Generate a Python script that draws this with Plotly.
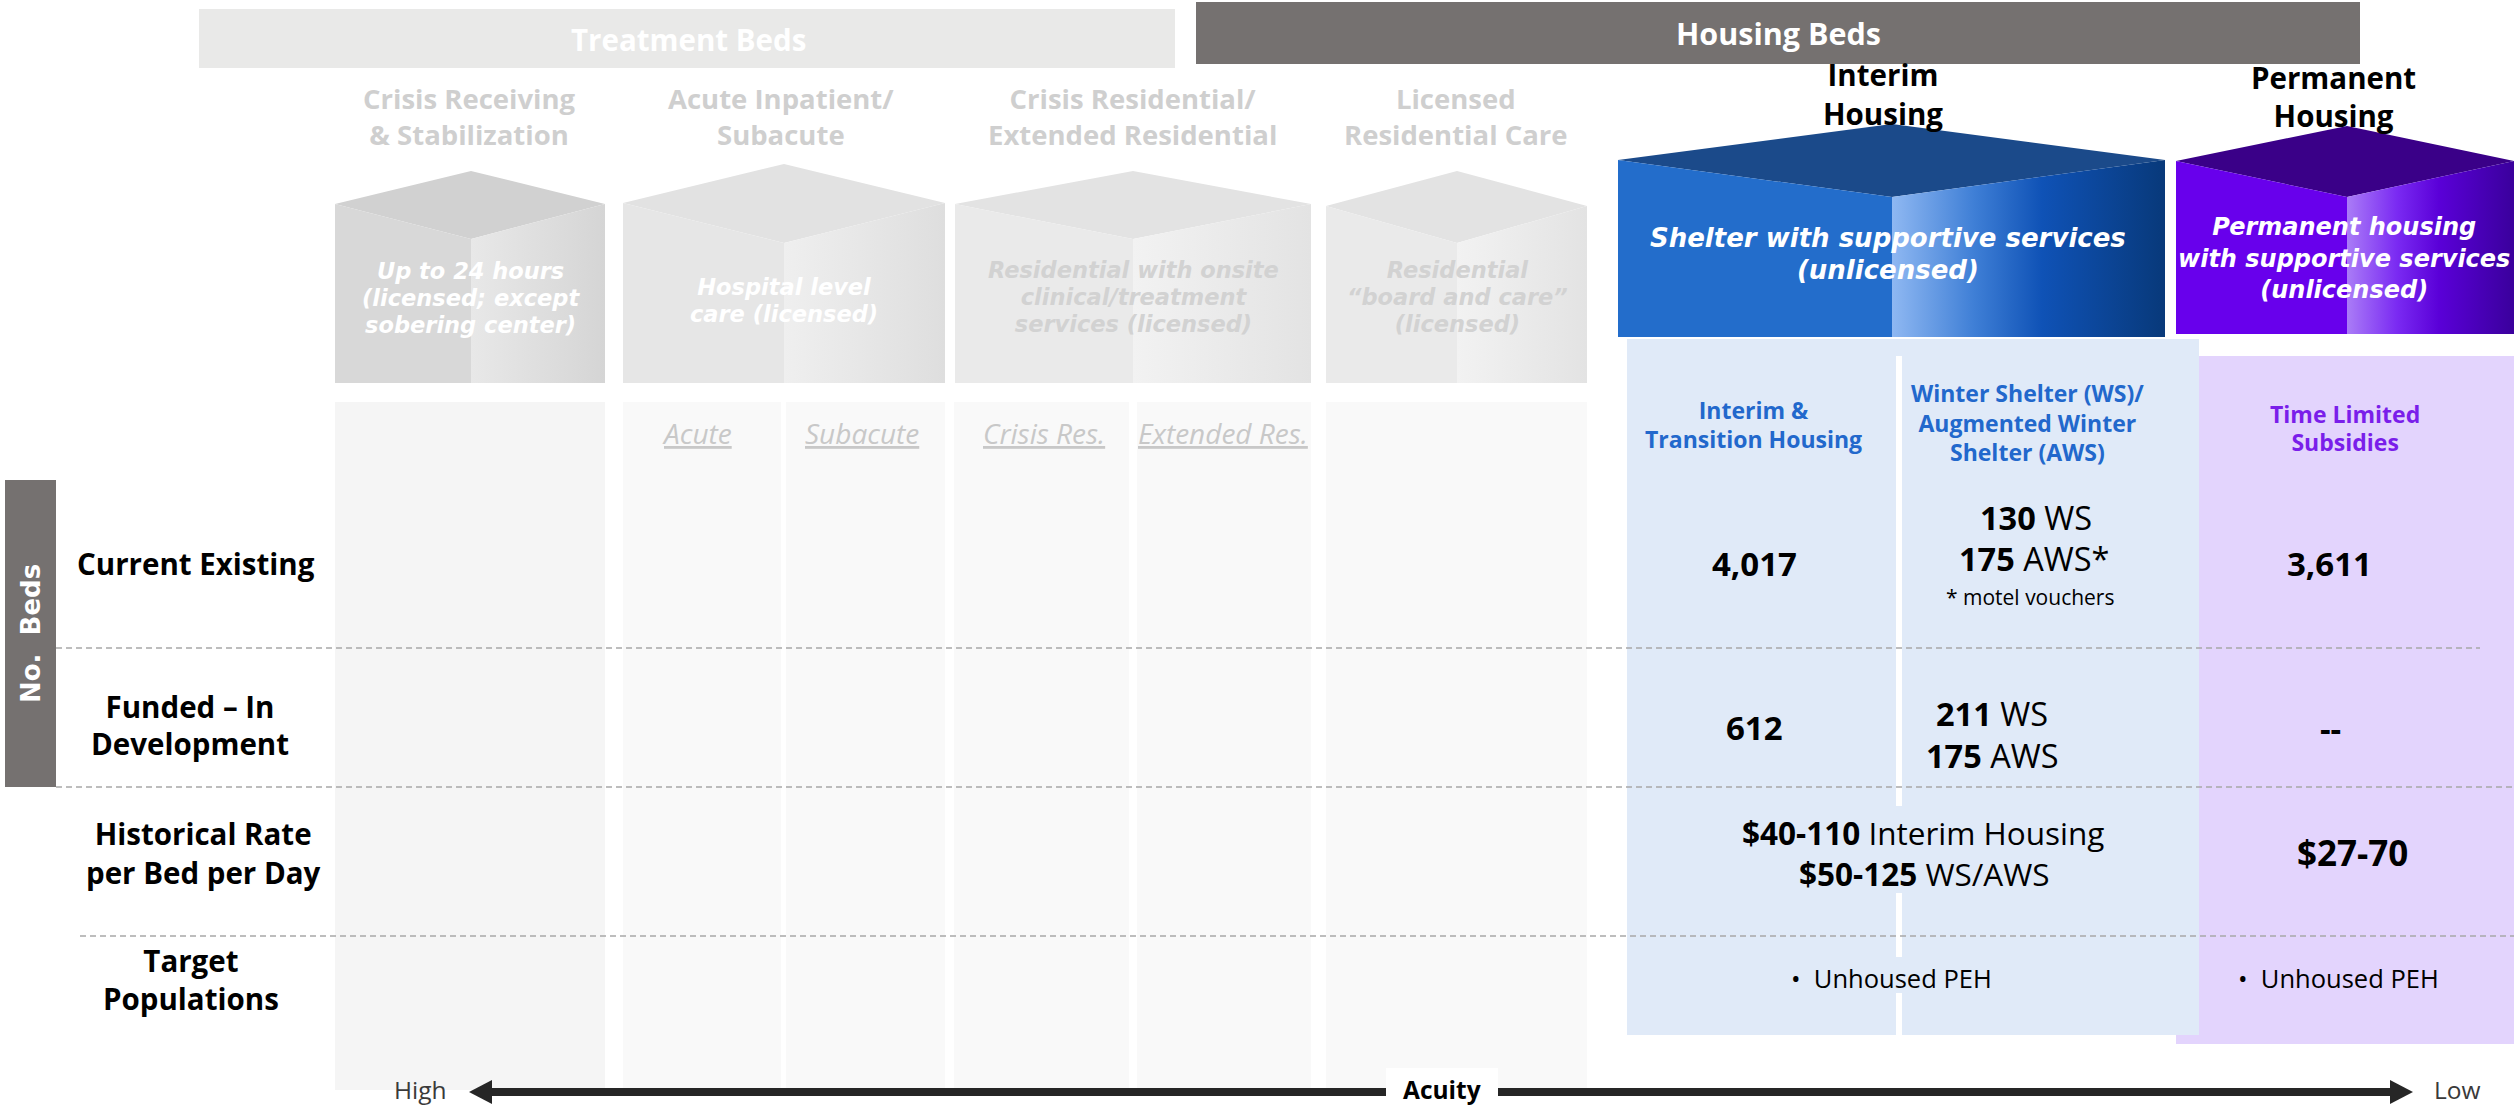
import plotly.graph_objects as go

# ------------------------------------------------------------------ data
treatment_title = "Treatment Beds"
housing_title = "Housing Beds"
treatment_categories = [["Crisis Receiving", "& Stabilization"],
                        ["Acute Inpatient/", "Subacute"],
                        ["Crisis Residential/", "Extended Residential"],
                        ["Licensed", "Residential Care"]]
treatment_descriptions = [["Up to 24 hours", "(licensed; except", "sobering center)"],
                          ["Hospital level", "care (licensed)"],
                          ["Residential with onsite", "clinical/treatment", "services (licensed)"],
                          ["Residential", "\u201cboard and care\u201d", "(licensed)"]]
treatment_subtypes = ["Acute", "Subacute", "Crisis Res.", "Extended Res."]
housing_categories = [["Interim", "Housing"], ["Permanent", "Housing"]]
housing_descriptions = [["Shelter with supportive services", "(unlicensed)"],
                        ["Permanent housing", "with supportive services", "(unlicensed)"]]
housing_subcolumns = [["Interim &", "Transition Housing"],
                      ["Winter Shelter (WS)/", "Augmented Winter", "Shelter (AWS)"],
                      ["Time Limited", "Subsidies"]]
row_labels = [["Current Existing"], ["Funded \u2013 In", "Development"],
              ["Historical Rate", "per Bed per Day"], ["Target", "Populations"]]
side_label = "No.  Beds"
# beds: [current existing, funded - in development]
interim_beds = [4017, 612]
ws_beds = [130, 211]
aws_beds = [175, 175]
permanent_beds = [3611, None]
aws_note = "* motel vouchers"
# historical rate per bed per day ($ low, $ high)
rate_interim = [40, 110]
rate_ws_aws = [50, 125]
rate_permanent = [27, 70]
target_populations = ["Unhoused PEH", "Unhoused PEH"]
acuity_labels = ["High", "Acuity", "Low"]

# ------------------------------------------------------------------ layout / styles
W, H = 2514, 1106
FONT = "Open Sans"
WIDE = "DejaVu Sans"
fig = go.Figure()
shapes = []
annots = []


def text(x, y, s, size, color="#000000", family=FONT, bg=None, angle=0, pad=1):
    a = dict(x=x, y=y, xref="x", yref="y", text=s, showarrow=False,
             xanchor="center", yanchor="middle",
             font=dict(size=size, color=color, family=family), textangle=angle,
             borderpad=pad)
    if bg:
        a["bgcolor"] = bg
    annots.append(a)


def mtext(x, ys, lines, size, color="#000000", tag=("<b>", "</b>"), family=FONT):
    """multi-line text with a custom line spacing (taken from the line centres)"""
    if len(ys) > 1:
        spacing = (ys[-1] - ys[0]) / (len(ys) - 1)
    else:
        spacing = size * 1.3
    base = spacing / 1.3
    body = "<br>".join('<span style="font-size:%.1fpx">%s%s%s</span>' % (size, tag[0], s, tag[1])
                       for s in lines)
    text(x, sum(ys) / len(ys), body, base, color, family)


def rect(x0, y0, x1, y1, color, layer="below"):
    shapes.append(dict(type="rect", xref="x", yref="y", x0=x0, y0=y0, x1=x1, y1=y1,
                       fillcolor=color, line=dict(width=0), layer=layer))


def poly(xs, ys, color=None, grad=None):
    kw = dict(x=list(xs) + [xs[0]], y=list(ys) + [ys[0]], mode="lines", fill="toself",
              line=dict(width=0, color="rgba(0,0,0,0)"), hoverinfo="skip", showlegend=False)
    if grad:
        kw["fillgradient"] = dict(type="horizontal", colorscale=grad)
        kw["fillcolor"] = grad[0][1]
    else:
        kw["fillcolor"] = color
    fig.add_trace(go.Scatter(**kw))


def cube(g, top, front, right):
    L, M, R, P, C, V, B = g
    poly([L, M, R, M], [C, P, C, V], top)
    poly([L, M, M, L], [C, V, B, B], front)
    poly([M, R, R, M], [V, C, B, B], grad=right)


# banners
rect(199, 9, 1175, 68, "#E9E9E8")
rect(1196, 2, 2360, 64, "#757170")
text(688, 39, "<b>%s</b>" % treatment_title, 29.5, "#FFFFFF")
text(1778, 33, "<b>%s</b>" % housing_title, 30.5, "#FFFFFF")

# treatment lower panels
rect(335, 402, 605, 1090, "#F5F5F5")
for x0, x1 in [(623, 781), (786, 945), (954, 1129), (1137, 1311), (1326, 1587)]:
    rect(x0, 402, x1, 1090, "#F9F9F9")

# housing lower panels
rect(2176, 356, 2514, 1044, "#E3D4FD")
rect(1627, 339, 2199, 1035, "#E0EAF8")
for y0, y1 in [(356, 806), (893, 957), (993, 1035)]:
    rect(1896, y0, 1902, y1, "#FFFFFF")

# No. Beds side box
rect(5, 480, 56, 787, "#757170")
text(31, 634, "<b>%s</b>" % side_label, 26, "#FFFFFF", family=WIDE, angle=-90)

# dashed row separators
for x0, x1, y in [(56, 2480, 648), (56, 2514, 787), (80, 2514, 936)]:
    shapes.append(dict(type="line", xref="x", yref="y", x0=x0, x1=x1, y0=y, y1=y,
                       line=dict(color="#A8A8A8", width=1.5, dash="6px,4px"), layer="below"))

# treatment cubes
cube_geoms = [(335, 471, 605, 171, 204, 239, 383),
              (623, 784, 945, 164, 203, 243, 383),
              (955, 1133, 1311, 171, 204, 239, 383),
              (1326, 1457, 1587, 171, 206, 243, 383)]
cube_cols = [("#D1D1D1", "#D8D8D8", [[0, "#E8E8E8"], [1, "#D5D5D5"]]),
             ("#E2E2E2", "#E6E6E6", [[0, "#EFEFEF"], [1, "#DEDEDE"]]),
             ("#E3E3E3", "#EAEAEA", [[0, "#F2F2F2"], [1, "#E3E3E3"]]),
             ("#E3E3E3", "#EAEAEA", [[0, "#F2F2F2"], [1, "#E3E3E3"]])]
for g, c in zip(cube_geoms, cube_cols):
    cube(g, *c)

# housing cubes
interim_geom = (1618, 1892, 2165, 124, 160, 197, 337)
perm_geom = (2176, 2347, 2514, 126, 161, 197, 334)
cube(interim_geom, "#1B4A8A", "#236DCB",
     [[0, "#8FB8F2"], [0.3, "#3F7FD6"], [0.55, "#0F52B6"], [1, "#08397A"]])
cube(perm_geom, "#3A0088", "#6800EC",
     [[0, "#AA7CF7"], [0.3, "#7A2AF2"], [0.55, "#5A00D8"], [1, "#3A009C"]])

# category headers
head_x = [469, 781, 1132, 1456]
for cx, lines in zip(head_x, treatment_categories):
    mtext(cx, [98, 134], lines, 27.5, "#CFCFCF")
for cx, ys, lines in zip([1883, 2333], [[74, 113], [77, 115]], housing_categories):
    mtext(cx, ys, lines, 29.5, "#000000")

# cube descriptions
desc_y = [[271, 298, 325], [287, 314], [270, 297, 324], [270, 297, 324]]
desc_col = ["#FFFFFF", "#FFFFFF", "#D2D2D2", "#D2D2D2"]
for g, ys, col, lines in zip(cube_geoms, desc_y, desc_col, treatment_descriptions):
    mtext(g[1], ys, lines, 22.5, col, tag=("<b><i>", "</i></b>"), family=WIDE)
for cx, ys, size, lines in zip([1888, 2344], [[238, 270], [227, 258, 290]], [26, 24],
                               housing_descriptions):
    mtext(cx, ys, lines, size, "#FFFFFF", tag=("<b><i>", "</i></b>"), family=WIDE)

# treatment subtypes
for cx, s in zip([697, 862, 1044, 1223], treatment_subtypes):
    text(cx, 433, "<i><u>%s</u></i>" % s, 28, "#C8C8C8")

# housing sub-column headers
sub_pos = [(1753, [410, 439]), (2027, [393, 423, 452]), (2345, [414, 442])]
sub_col = ["#2268CC", "#2268CC", "#7A1EEA"]
for (cx, ys), col, lines in zip(sub_pos, sub_col, housing_subcolumns):
    mtext(cx, ys, lines, 23, col)

# row labels
label_pos = [(196, [563]), (190, [706, 743]), (203, [833, 872]), (191, [960, 998])]
for (cx, ys), lines in zip(label_pos, row_labels):
    mtext(cx, ys, lines, 29.5)


def fmt(v):
    return "--" if v is None else "{:,}".format(v)


# current existing row
text(1754, 563, "<b>%s</b>" % fmt(interim_beds[0]), 33)
text(2036, 517, "<b>%s</b> WS" % fmt(ws_beds[0]), 32.5)
text(2034, 558, "<b>%s</b> AWS*" % fmt(aws_beds[0]), 32.5)
text(2030, 597, aws_note, 21)
text(2329, 563, "<b>%s</b>" % fmt(permanent_beds[0]), 33)

# funded row
text(1754, 727, "<b>%s</b>" % fmt(interim_beds[1]), 33)
text(1992, 713, "<b>%s</b> WS" % fmt(ws_beds[1]), 32.5)
text(1992, 755, "<b>%s</b> AWS" % fmt(aws_beds[1]), 32.5)
text(2330, 728, "<b>%s</b>" % fmt(permanent_beds[1]), 33)

# rate row
text(1923, 832, "<b>$%d-%d</b> Interim Housing" % tuple(rate_interim), 31.5)
text(1924, 873, "<b>$%d-%d</b> WS/AWS" % tuple(rate_ws_aws), 31.5)
text(2352, 852, "<b>$%d-%d</b>" % tuple(rate_permanent), 35)

# target row
text(1891, 978, "\u2022  %s" % target_populations[0], 25.5)
text(2338, 978, "\u2022  %s" % target_populations[1], 25.5)

# acuity arrow
shapes.append(dict(type="line", xref="x", yref="y", x0=488, x1=2394, y0=1092, y1=1092,
                   line=dict(color="#262626", width=8), layer="above"))
rect(1386, 1068, 1498, 1106, "#FFFFFF", layer="above")
poly([469, 492, 492], [1092, 1080, 1104], "#262626")
poly([2413, 2390, 2390], [1092, 1080, 1104], "#262626")
text(420, 1089, acuity_labels[0], 24.5, "#3A3A3A")
text(1442, 1089, "<b>%s</b>" % acuity_labels[1], 24.5, "#000000")
text(2457, 1089, acuity_labels[2], 24.5, "#3A3A3A")

fig.update_layout(
    width=W, height=H, margin=dict(l=0, r=0, t=0, b=0),
    paper_bgcolor="#FFFFFF", plot_bgcolor="#FFFFFF",
    xaxis=dict(range=[0, W], visible=False, fixedrange=True),
    yaxis=dict(range=[H, 0], visible=False, fixedrange=True),
    shapes=shapes, annotations=annots, showlegend=False,
    font=dict(family=FONT),
)
fig.write_html("out.html", config={"displayModeBar": False},
               post_script="document.body.style.margin='0';document.body.style.overflow='hidden';")
